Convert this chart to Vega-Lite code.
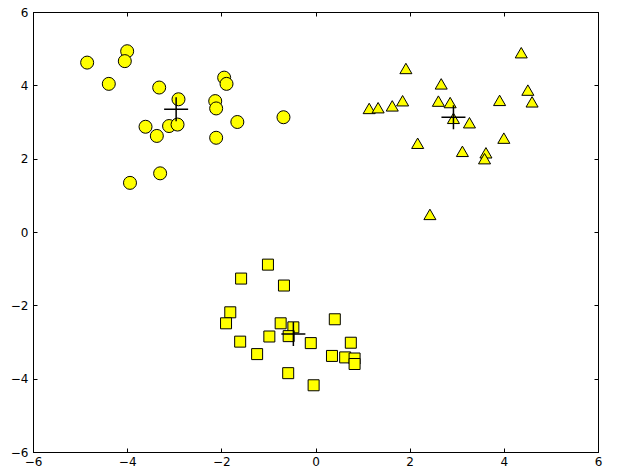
{
  "$schema": "https://vega.github.io/schema/vega-lite/v6.json",
  "width": 565,
  "height": 440,
  "autosize": {"type": "none"},
  "padding": {"left": 33, "top": 12, "right": 21, "bottom": 20},
  "background": "white",
  "config": {
    "view": {"stroke": "black", "strokeWidth": 1},
    "axis": {
      "grid": false,
      "domainColor": "black",
      "tickColor": "black",
      "labelFont": "DejaVu Sans",
      "labelFontSize": 12,
      "labelColor": "black",
      "labelOverlap": false,
      "labelFlush": false,
      "title": null
    }
  },
  "datasets": {
    "points": [
      {"cluster": "A", "x": -4.85, "y": 4.62},
      {"cluster": "A", "x": -4.0, "y": 4.93},
      {"cluster": "A", "x": -4.05, "y": 4.66},
      {"cluster": "A", "x": -4.39, "y": 4.04},
      {"cluster": "A", "x": -3.32, "y": 3.94},
      {"cluster": "A", "x": -2.91, "y": 3.62},
      {"cluster": "A", "x": -1.94, "y": 4.21},
      {"cluster": "A", "x": -1.89, "y": 4.04},
      {"cluster": "A", "x": -2.13, "y": 3.57},
      {"cluster": "A", "x": -2.11, "y": 3.37},
      {"cluster": "A", "x": -1.66, "y": 3.0},
      {"cluster": "A", "x": -0.68, "y": 3.13},
      {"cluster": "A", "x": -3.61, "y": 2.87},
      {"cluster": "A", "x": -3.37, "y": 2.62},
      {"cluster": "A", "x": -3.11, "y": 2.89},
      {"cluster": "A", "x": -2.93, "y": 2.93},
      {"cluster": "A", "x": -2.11, "y": 2.57},
      {"cluster": "A", "x": -3.3, "y": 1.6},
      {"cluster": "A", "x": -3.94, "y": 1.34},
      {"cluster": "B", "x": 4.37, "y": 4.89},
      {"cluster": "B", "x": 1.92, "y": 4.46},
      {"cluster": "B", "x": 2.67, "y": 4.04},
      {"cluster": "B", "x": 4.51, "y": 3.87},
      {"cluster": "B", "x": 4.6, "y": 3.55},
      {"cluster": "B", "x": 3.91, "y": 3.59},
      {"cluster": "B", "x": 1.14, "y": 3.37},
      {"cluster": "B", "x": 1.33, "y": 3.39},
      {"cluster": "B", "x": 1.63, "y": 3.44},
      {"cluster": "B", "x": 1.85, "y": 3.58},
      {"cluster": "B", "x": 2.61, "y": 3.57},
      {"cluster": "B", "x": 2.86, "y": 3.53},
      {"cluster": "B", "x": 2.93, "y": 3.1},
      {"cluster": "B", "x": 3.27, "y": 2.98},
      {"cluster": "B", "x": 2.17, "y": 2.42},
      {"cluster": "B", "x": 4.0, "y": 2.56},
      {"cluster": "B", "x": 3.12, "y": 2.2},
      {"cluster": "B", "x": 3.62, "y": 2.16},
      {"cluster": "B", "x": 3.59, "y": 2.0},
      {"cluster": "B", "x": 2.43, "y": 0.48},
      {"cluster": "C", "x": -1.01, "y": -0.89},
      {"cluster": "C", "x": -1.58, "y": -1.27},
      {"cluster": "C", "x": -0.67, "y": -1.46},
      {"cluster": "C", "x": -1.81, "y": -2.19},
      {"cluster": "C", "x": -1.9, "y": -2.49},
      {"cluster": "C", "x": -0.74, "y": -2.49},
      {"cluster": "C", "x": -0.47, "y": -2.6},
      {"cluster": "C", "x": -0.57, "y": -2.84},
      {"cluster": "C", "x": 0.41, "y": -2.38},
      {"cluster": "C", "x": -1.6, "y": -2.99},
      {"cluster": "C", "x": -0.98, "y": -2.85},
      {"cluster": "C", "x": -0.1, "y": -3.03},
      {"cluster": "C", "x": 0.75, "y": -3.02},
      {"cluster": "C", "x": -1.24, "y": -3.33},
      {"cluster": "C", "x": 0.35, "y": -3.38},
      {"cluster": "C", "x": 0.63, "y": -3.42},
      {"cluster": "C", "x": 0.83, "y": -3.45},
      {"cluster": "C", "x": 0.83, "y": -3.6},
      {"cluster": "C", "x": -0.58, "y": -3.85},
      {"cluster": "C", "x": -0.04, "y": -4.18}
    ],
    "centers": [
      {"x": -2.96, "y": 3.35},
      {"x": 2.93, "y": 3.13},
      {"x": -0.47, "y": -2.78}
    ]
  },
  "layer": [
    {
      "data": {"name": "points"},
      "mark": {"type": "point", "filled": true, "fill": "#ffff00", "stroke": "black", "strokeWidth": 1, "opacity": 1},
      "encoding": {
        "x": {"field": "x", "type": "quantitative", "scale": {"domain": [-6, 6], "nice": false, "zero": false},
              "axis": {"orient": "bottom", "values": [-6, -4, -2, 0, 2, 4, 6], "tickSize": -4, "labelPadding": 8, "labelExpr": "replace(datum.label, '-', '−')"}},
        "y": {"field": "y", "type": "quantitative", "scale": {"domain": [-6, 6], "nice": false, "zero": false},
              "axis": {"orient": "left", "values": [-6, -4, -2, 0, 2, 4, 6], "tickSize": -4, "labelPadding": 9, "labelExpr": "replace(datum.label, '-', '−')"}},
        "shape": {"field": "cluster", "type": "nominal", "scale": {"domain": ["A", "B", "C"], "range": ["circle", "triangle-up", "square"]}, "legend": null},
        "size": {"field": "cluster", "type": "nominal", "scale": {"domain": ["A", "B", "C"], "range": [169, 121, 90]}, "legend": null}
      }
    },
    {
      "data": {"name": "centers"},
      "mark": {"type": "point", "shape": "M-1,0L1,0M0,-1L0,1", "size": 576, "filled": false, "stroke": "black", "strokeWidth": 1.5, "opacity": 1},
      "encoding": {
        "x": {"field": "x", "type": "quantitative", "axis": {"orient": "top", "values": [-6, -4, -2, 0, 2, 4, 6], "tickSize": -4, "labels": false}},
        "y": {"field": "y", "type": "quantitative", "axis": {"orient": "right", "values": [-6, -4, -2, 0, 2, 4, 6], "tickSize": -4, "labels": false}}
      }
    }
  ],
  "resolve": {"axis": {"x": "independent", "y": "independent"}}
}
